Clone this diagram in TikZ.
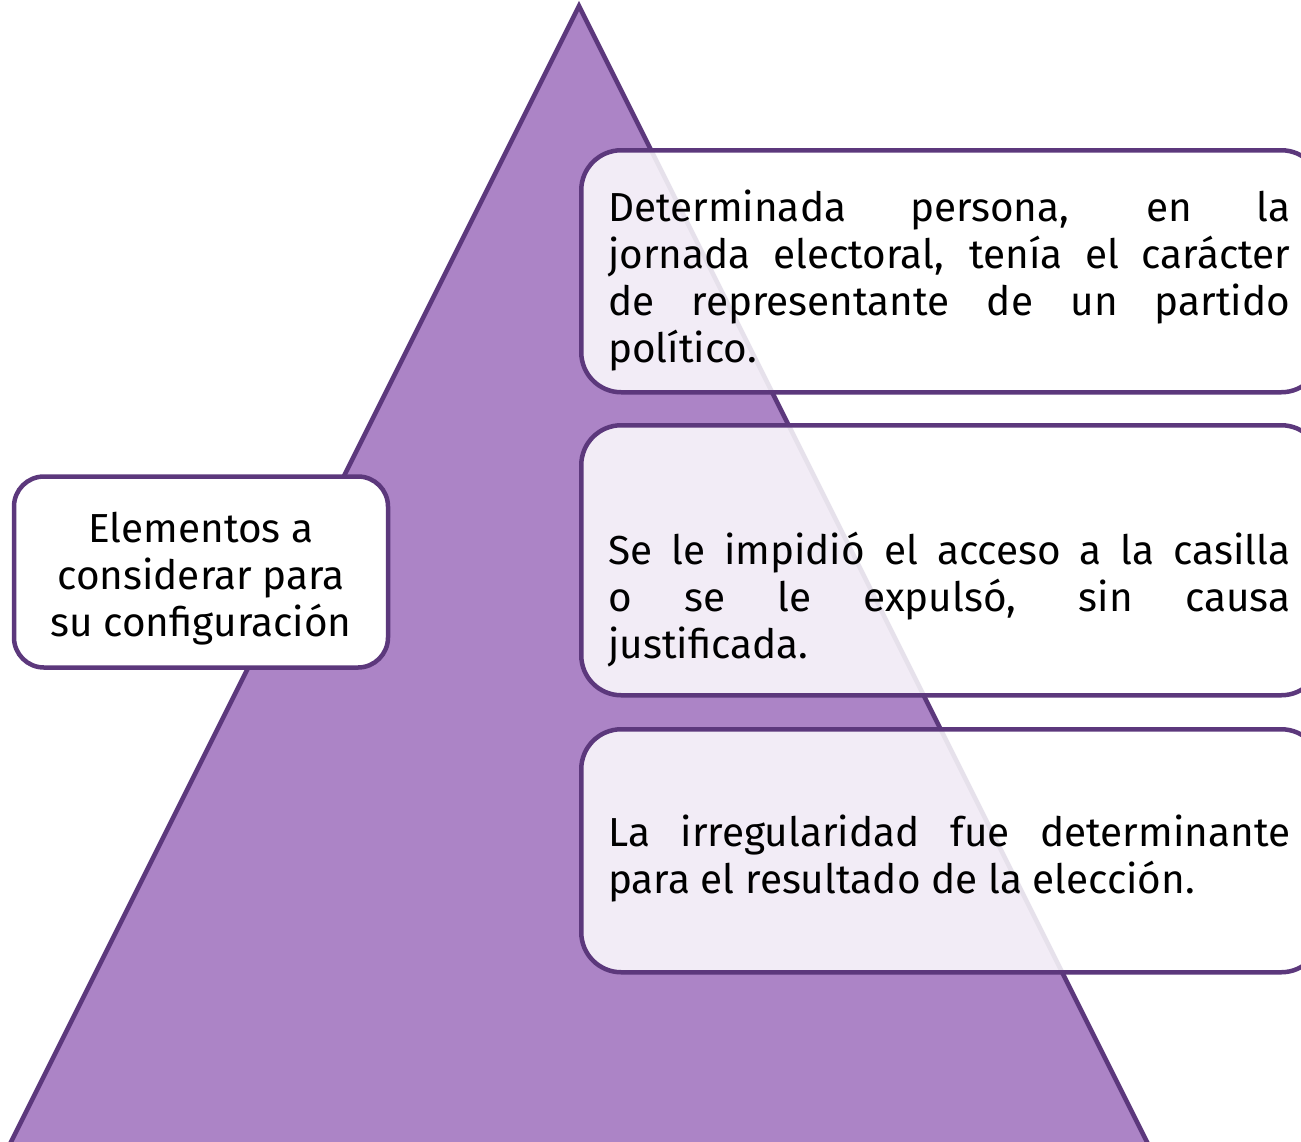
\documentclass[tikz,border=0pt]{standalone}
\usepackage{fontspec}
\setmainfont{Fira Sans}
\usetikzlibrary{positioning}
\definecolor{pyrfill}{RGB}{172,132,198}
\definecolor{pyrline}{RGB}{92,56,124}

\begin{document}
\begin{tikzpicture}[x=1pt,y=-1pt,
  panel/.style={draw=pyrline,line width=4.5pt,rounded corners=40pt,fill=white,fill opacity=0.85,
    minimum width=740pt,anchor=north west},
  elembox/.style={draw=pyrline,line width=4.5pt,rounded corners=30pt,fill=white,
    minimum width=374pt,minimum height=191pt},
  txt/.style={text width=682pt,align=justify,inner sep=0pt,anchor=north west,
    font=\fontsize{40.5}{47}\selectfont},
  ctxt/.style={align=center,inner sep=0pt,anchor=north,font=\fontsize{40.5}{47}\selectfont}]
\useasboundingbox (0,0) rectangle (1301,1141);
\clip (0,0) rectangle (1301,1141);
% pyramid
\coordinate (apex) at (579,6);
\draw[pyrline,line width=4.5pt,line join=miter,fill=pyrfill]
  (apex) -- (1176,1200) -- (-18,1200) -- cycle;
% left box
\node[elembox] (elem) at (201,572) {};
\node[ctxt] (elemtxt) at (201,512) {Elementos a\\considerar para\\su configuración};
% right boxes
\node[panel,minimum height=242pt] (b1) at (579,148) {};
\node[panel,minimum height=270pt] (b2) at (579,423) {};
\node[panel,minimum height=243pt] (b3) at (579,727) {};
\node[txt] (t1) at (608,190) {Determinada persona, en la\linebreak jornada electoral, tenía el carácter\linebreak de representante de un partido\linebreak político.};
\node[txt] (t2) at (608,532) {Se le impidió el acceso a la casilla\linebreak o se le expulsó, sin causa\linebreak justificada.};
\node[txt] (t3) at (608,815) {La irregularidad fue determinante\linebreak para el resultado de la elección.};
\end{tikzpicture}
\end{document}
